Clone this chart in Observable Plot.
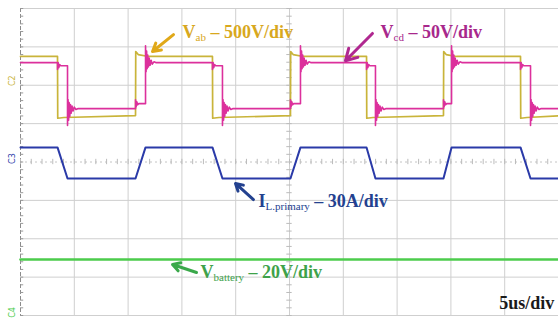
<!DOCTYPE html>
<html><head><meta charset="utf-8">
<script src="https://cdn.jsdelivr.net/npm/d3@7"></script>
<script src="https://cdn.jsdelivr.net/npm/@observablehq/plot@0.6"></script>
<style>body{margin:0;background:#fff;} svg{background:#fff;}</style>
</head><body><div id="chart"></div>
<script>
// time axis in µs (5 µs/div), amplitude in screen divisions
const timeGrid = [0, 5, 10, 15, 20, 25, 30, 35, 40, 45, 50];
const divGrid = [-4, -3, -2, -1, 0, 1, 2, 3, 4];

// Vab (yellow) edges: first edge is falling, then alternating
const vabEdges = [3.44, 10.69, 17.84, 25.09, 32.16, 39.31, 46.47];
const vabHigh = 2.75, vabLow = 1.18, vabOvershoot = 2.88;

// Vcd (magenta) edges, delayed from Vab
const vcdEdges = [4.37, 11.62, 18.77, 26.02, 32.99, 40.06, 47.40];
const vcdHigh = 2.59, vcdLow = 1.39, vcdStepDown = 2.51, vcdStepUp = 1.52;
// ringing after a falling Vcd edge: [µs after edge, offset from level] (negated for rising)
const vcdRing = [[0.00, -0.44], [0.05, 0.24], [0.10, -0.30], [0.15, 0.16], [0.21, -0.20], [0.27, 0.11],
                 [0.34, -0.12], [0.42, 0.07], [0.52, -0.06], [0.63, 0.04], [0.78, -0.02], [0.95, 0.0]];
const smallRing = [[0.00, -0.10], [0.06, 0.08], [0.12, -0.05], [0.20, 0.03], [0.30, 0.0]];

// IL primary (blue) levels
const ilHigh = 0.38, ilLow = -0.43;
// V battery (green)
const vbatLevel = -2.54;

// channel markers
const channelNames = ["C2", "C3", "C4"];
const channelLevels = [2.12, 0.09, -3.92];
const channelColors = ["#c9b43a", "#2a3aa8", "#4ccc4c"];

// annotation labels
const labelTexts = ["V_{ab} – 500V/div", "V_{cd} – 50V/div", "I_{L.primary} – 30A/div", "V_{battery} – 20V/div"];
const labelT = [15.06, 33.46, 22.12, 16.73];
const labelV = [3.22, 3.22, -1.16, -3.01];
const labelColors = ["#d8a81e", "#a8288c", "#23418f", "#3ea24a"];
const arrowFrom = [[14.22, 3.32], [32.71, 3.35], [21.65, -0.98], [16.36, -2.88]];
const arrowTo = [[12.27, 2.88], [30.20, 2.64], [19.98, -0.56], [14.13, -2.67]];
const arrowColors = ["#e0a818", "#b02890", "#23418f", "#3aa84a"];

// ---- build traces from edges/levels ----
const vab = [[0, vabHigh]];
vabEdges.forEach((e, i) => {
  if (i % 2 === 0) vab.push([e, vabHigh], [e + 0.02, vabLow - 0.04], [e + 0.6, vabLow - 0.02]);
  else vab.push([e, vabLow + 0.03], [e + 0.02, vabOvershoot], [e + 0.25, vabHigh + 0.05], [e + 1.2, vabHigh]);
});
vab.push([50, vabLow + 0.02]);

const vcd = [[0, vcdHigh]];
vcdEdges.forEach((m, i) => {
  const y = vabEdges[i];
  if (i % 2 === 0) {
    vcd.push([y, vcdHigh]);
    smallRing.forEach(([dt, dv]) => vcd.push([y + dt, vcdStepDown + dv]));
    vcd.push([m, vcdStepDown]);
    vcdRing.forEach(([dt, dv]) => vcd.push([m + dt, vcdLow + dv]));
  } else {
    vcd.push([y, vcdLow]);
    smallRing.forEach(([dt, dv]) => vcd.push([y + dt, vcdStepUp - dv]));
    vcd.push([m, vcdStepUp]);
    vcdRing.forEach(([dt, dv]) => vcd.push([m + dt, vcdHigh - dv]));
  }
});
vcd.push([50, vcdLow]);

const il = [[0, ilHigh]];
vcdEdges.forEach((m, i) => {
  const y = vabEdges[i];
  if (i % 2 === 0) il.push([y, ilHigh], [m, ilLow]);
  else il.push([y, ilLow], [m, ilHigh]);
});
il.push([50, ilLow]);

const vbat = [[0, vbatLevel], [50, vbatLevel]];

const labels = labelTexts.map((t, i) => ({text: t, t: labelT[i], v: labelV[i], color: labelColors[i]}));
const arrows = arrowFrom.map((f, i) => ({x1: f[0], y1: f[1], x2: arrowTo[i][0], y2: arrowTo[i][1], color: arrowColors[i]}));
const channels = channelNames.map((n, i) => ({n, v: channelLevels[i], c: channelColors[i]}));
const minorT = d3.range(0, 50.001, 1);
const minorV = d3.range(-4, 4.001, 0.2);

const chart = Plot.plot({
  width: 558, height: 322,
  marginLeft: 20, marginRight: 0, marginTop: 8, marginBottom: 7,
  x: {domain: [0, 50], axis: null},
  y: {domain: [-4, 4], axis: null},
  style: {background: "#fff", overflow: "visible"},
  marks: [
    Plot.ruleX(timeGrid.slice(1), {stroke: "#cfcfcf", strokeWidth: 1}),
    Plot.ruleY(divGrid.filter(d => d !== 0), {stroke: "#cfcfcf", strokeWidth: 1}),
    Plot.ruleY([0], {stroke: "#c4c4c4", strokeDasharray: "2,3"}),
    Plot.ruleX([0], {stroke: "#8c8c8c", strokeDasharray: "4,2"}),
    Plot.ruleX(minorT, {x: d => d, y1: -0.07, y2: 0.07, stroke: "#bbb"}),
    Plot.ruleY(minorV, {y: d => d, x1: 24.75, x2: 25.25, stroke: "#bbb"}),
    Plot.ruleY(minorV, {y: d => d, x1: 0, x2: 0.3, stroke: "#999"}),
    Plot.line(vbat, {x: d => d[0], y: d => d[1], stroke: "#4ccc4c", strokeWidth: 2.6}),
    Plot.line(il, {x: d => d[0], y: d => d[1], stroke: "#2a3aa8", strokeWidth: 2}),
    Plot.line(vab, {x: d => d[0], y: d => d[1], stroke: "#c9b43a", strokeWidth: 1.7}),
    Plot.line(vcd, {x: d => d[0], y: d => d[1], stroke: "#dc309c", strokeWidth: 1.6}),
    Plot.arrow(arrows, {x1: "x1", y1: "y1", x2: "x2", y2: "y2", stroke: "color", strokeWidth: 3, headLength: 9}),
    Plot.text(labels, {x: "t", y: "v", text: "text", fill: "color", fontSize: 18, fontWeight: "bold",
      fontFamily: "Liberation Serif", textAnchor: "start", lineAnchor: "bottom"}),
    Plot.text(["5us/div"], {x: 49.6, y: -3.82, text: d => d, fill: "#1a1a1a", fontSize: 18, fontWeight: "bold",
      fontFamily: "Liberation Serif", textAnchor: "end", lineAnchor: "bottom"}),
    Plot.text(channels, {x: -0.75, y: "v", text: "n", fill: "c", fontSize: 8, rotate: -90,
      fontFamily: "DejaVu Sans"})
  ]
});

// render subscripts as tspans
chart.querySelectorAll("text").forEach(el => {
  const s = el.textContent;
  const m = s.match(/^(.*?)_\{(.*?)\}(.*)$/);
  if (!m) return;
  el.textContent = "";
  const ns = "http://www.w3.org/2000/svg";
  const a = document.createElementNS(ns, "tspan"); a.textContent = m[1];
  const b = document.createElementNS(ns, "tspan"); b.textContent = m[2];
  b.setAttribute("font-size", "11"); b.setAttribute("font-weight", "normal"); b.setAttribute("dy", "3");
  const c = document.createElementNS(ns, "tspan"); c.textContent = m[3]; c.setAttribute("dy", "-3");
  el.append(a, b, c);
});
document.getElementById("chart").append(chart);
</script>
</body></html>
